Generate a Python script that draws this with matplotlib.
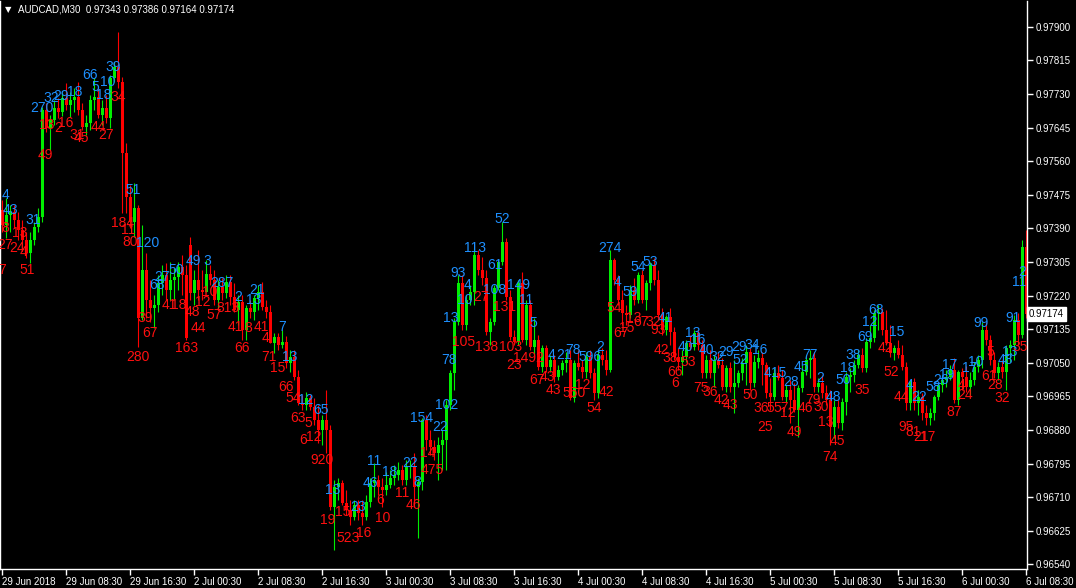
import matplotlib.pyplot as plt
import numpy as np

SYMBOL = "AUDCAD,M30"
POINT = 1e-5

time_labels = ["29 Jun 2018", "29 Jun 08:30", "29 Jun 16:30", "2 Jul 00:30", "2 Jul 08:30",
               "2 Jul 16:30", "3 Jul 00:30", "3 Jul 08:30", "3 Jul 16:30", "4 Jul 00:30",
               "4 Jul 08:30", "4 Jul 16:30", "5 Jul 00:30", "5 Jul 08:30", "5 Jul 16:30",
               "6 Jul 00:30", "6 Jul 08:30"]

price_ticks = [96540, 96625, 96710, 96795, 96880, 96965, 97050, 97135, 97220,
               97305, 97390, 97475, 97560, 97645, 97730, 97815, 97900]

# M30 bars, prices in points (1e-5)
opens = [
    97437, 97399, 97424, 97432, 97411, 97386, 97361, 97328, 97361, 97394,
    97419, 97690, 97644, 97664, 97695, 97685, 97720, 97702, 97715, 97723,
    97690, 97647, 97657, 97715, 97723, 97677, 97695, 97669, 97771, 97799,
    97761, 97581, 97470, 97406, 97442, 97164, 97285, 97209, 97189, 97196,
    97252, 97272, 97234, 97260, 97267, 97292, 97272, 97348, 97227, 97260,
    97234, 97229, 97275, 97260, 97209, 97242, 97227, 97255, 97217, 97184,
    97204, 97133, 97189, 97179, 97214, 97229, 97191, 97179, 97100, 97116,
    97095, 97103, 97050, 97065, 97014, 96948, 96943, 96961, 96938, 96905,
    96880, 96905, 96880, 96685, 96736, 96746, 96695, 96678, 96660, 96690,
    96670, 96660, 96698, 96746, 96754, 96736, 96728, 96741, 96759, 96766,
    96779, 96754, 96786, 96789, 96736, 96749, 96905, 96855, 96837, 96822,
    96842, 96855, 96943, 97024, 97153, 97252, 97146, 97209, 97229, 97323,
    97285, 97265, 97128, 97153, 97240, 97305, 97356, 97217, 97116, 97103,
    97252, 97108, 97196, 97090, 97108, 97040, 97088, 97040, 97057, 97014,
    97032, 97050, 97057, 96961, 97050, 97040, 97027, 97065, 97024, 96974,
    97070, 97057, 97032, 97310, 97260, 97209, 97176, 97171, 97234, 97209,
    97272, 97209, 97252, 97298, 97260, 97171, 97133, 97166, 97128, 97065,
    97052, 97065, 97100, 97090, 97126, 97095, 97024, 97057, 97024, 97057,
    97045, 96989, 97037, 96989, 96999, 97024, 97050, 97078, 96999, 97052,
    97062, 97045, 96974, 96964, 97024, 97012, 96964, 96981, 96956, 96931,
    96987, 97027, 97057, 97062, 96989, 96999, 96974, 96956, 96888, 96938,
    96898, 96951, 97014, 97019, 97045, 97070, 97037, 97103, 97113, 97176,
    97179, 97133, 97100, 97075, 97088, 97070, 97040, 96948, 97002, 96948,
    96964, 96923, 96911, 96923, 96964, 96994, 97007, 97014, 97032, 96956,
    97027, 97014, 96989, 97007, 97040, 97057, 97133, 97108, 97057, 97024,
    97040, 97027, 97088, 97095, 97158, 97121, 97343]

highs = [
    97462, 97467, 97449, 97449, 97432, 97411, 97381, 97381, 97406, 97442,
    97697, 97707, 97677, 97715, 97720, 97735, 97758, 97735, 97745, 97761,
    97707, 97677, 97728, 97771, 97745, 97715, 97728, 97778, 97811, 97887,
    97773, 97606, 97500, 97505, 97449, 97399, 97328, 97260, 97222, 97272,
    97298, 97303, 97305, 97290, 97305, 97323, 97298, 97368, 97285, 97336,
    97285, 97310, 97298, 97285, 97260, 97265, 97272, 97272, 97252, 97222,
    97222, 97196, 97209, 97222, 97247, 97255, 97209, 97196, 97126, 97126,
    97133, 97118, 97083, 97083, 97032, 96969, 96976, 96969, 96961, 96943,
    96918, 96981, 96893, 96754, 96759, 96754, 96728, 96703, 96703, 96703,
    96703, 96716, 96759, 96797, 96766, 96759, 96774, 96779, 96792, 96799,
    96792, 96804, 96804, 96822, 96759, 96911, 96918, 96880, 96855, 96862,
    96880, 96956, 97032, 97164, 97272, 97272, 97222, 97247, 97341, 97336,
    97318, 97285, 97164, 97247, 97310, 97406, 97366, 97234, 97133, 97260,
    97280, 97209, 97209, 97164, 97121, 97095, 97095, 97070, 97070, 97045,
    97057, 97078, 97083, 97057, 97083, 97057, 97078, 97083, 97037, 97083,
    97088, 97083, 97336, 97315, 97272, 97234, 97196, 97247, 97265, 97280,
    97285, 97260, 97305, 97315, 97285, 97189, 97171, 97189, 97141, 97088,
    97083, 97108, 97121, 97133, 97133, 97108, 97070, 97083, 97070, 97078,
    97062, 97045, 97052, 97057, 97032, 97062, 97095, 97088, 97070, 97083,
    97078, 97052, 97012, 97037, 97045, 97032, 96994, 97007, 96999, 96994,
    97045, 97070, 97083, 97078, 97012, 97019, 96994, 96981, 96956, 96956,
    96961, 97027, 97037, 97057, 97083, 97088, 97113, 97146, 97184, 97196,
    97189, 97184, 97146, 97095, 97108, 97095, 97052, 97007, 97012, 96981,
    96974, 96943, 96936, 96969, 96999, 97019, 97032, 97045, 97062, 97032,
    97037, 97042, 97027, 97052, 97070, 97153, 97153, 97121, 97078, 97052,
    97057, 97095, 97108, 97171, 97176, 97361, 97386]

lows = [
    97381, 97366, 97381, 97391, 97361, 97336, 97315, 97303, 97348, 97381,
    97406, 97634, 97589, 97652, 97669, 97675, 97690, 97672, 97685, 97677,
    97639, 97626, 97639, 97690, 97669, 97652, 97657, 97644, 97761, 97745,
    97429, 97429, 97391, 97368, 97090, 97158, 97164, 97153, 97138, 97179,
    97222, 97209, 97209, 97209, 97234, 97222, 97108, 97209, 97196, 97209,
    97209, 97229, 97247, 97196, 97189, 97209, 97214, 97196, 97179, 97146,
    97108, 97108, 97164, 97158, 97184, 97184, 97164, 97100, 97075, 97083,
    97088, 97037, 97027, 97007, 96943, 96931, 96931, 96931, 96893, 96847,
    96842, 96822, 96678, 96577, 96703, 96690, 96665, 96640, 96652, 96652,
    96640, 96652, 96685, 96711, 96716, 96685, 96716, 96734, 96741, 96754,
    96741, 96741, 96759, 96685, 96607, 96728, 96830, 96817, 96804, 96754,
    96779, 96779, 96931, 96981, 97146, 97133, 97133, 97196, 97196, 97272,
    97247, 97121, 97095, 97146, 97234, 97298, 97209, 97108, 97095, 97095,
    97103, 97095, 97083, 97070, 97032, 97027, 97027, 97027, 97002, 97007,
    97019, 97027, 96956, 96951, 97032, 97012, 97012, 97012, 96956, 96961,
    97045, 97019, 97027, 97247, 97196, 97146, 97146, 97164, 97196, 97201,
    97201, 97184, 97234, 97247, 97164, 97121, 97121, 97095, 97057, 97032,
    97019, 97052, 97083, 97083, 97083, 97012, 97012, 97012, 96989, 97037,
    96981, 96976, 96976, 96923, 96989, 97007, 96994, 96981, 96989, 97037,
    96994, 96961, 96931, 96956, 97007, 96956, 96951, 96898, 96926, 96862,
    96976, 97019, 97012, 96976, 96976, 96961, 96943, 96842, 96860, 96885,
    96880, 96918, 96976, 97002, 97037, 97027, 97027, 97088, 97103, 97133,
    97121, 97095, 97065, 97057, 97062, 97032, 96931, 96931, 96931, 96918,
    96905, 96893, 96893, 96905, 96956, 96976, 96989, 97007, 96948, 96943,
    96981, 96976, 96969, 96994, 97027, 97037, 97095, 97045, 97012, 97007,
    97012, 96981, 97052, 97057, 97095, 97113, 97164]

closes = [
    97399, 97424, 97432, 97411, 97386, 97361, 97328, 97361, 97394, 97419,
    97690, 97644, 97664, 97695, 97685, 97720, 97702, 97715, 97723, 97690,
    97647, 97657, 97715, 97723, 97677, 97695, 97669, 97771, 97799, 97761,
    97581, 97470, 97406, 97442, 97164, 97285, 97209, 97189, 97196, 97252,
    97272, 97234, 97260, 97267, 97292, 97272, 97113, 97227, 97260, 97234,
    97229, 97275, 97260, 97209, 97242, 97227, 97255, 97217, 97184, 97204,
    97133, 97189, 97179, 97214, 97229, 97191, 97179, 97100, 97116, 97095,
    97103, 97050, 97065, 97014, 96948, 96943, 96961, 96938, 96905, 96880,
    96905, 96880, 96685, 96736, 96746, 96695, 96678, 96660, 96690, 96670,
    96660, 96698, 96746, 96754, 96736, 96728, 96741, 96759, 96766, 96779,
    96754, 96786, 96789, 96736, 96749, 96905, 96855, 96837, 96822, 96842,
    96855, 96943, 97024, 97153, 97252, 97146, 97209, 97229, 97323, 97285,
    97265, 97128, 97153, 97240, 97305, 97356, 97217, 97116, 97103, 97252,
    97108, 97196, 97090, 97108, 97040, 97088, 97040, 97057, 97014, 97032,
    97050, 97057, 96961, 97050, 97040, 97027, 97065, 97024, 96974, 97070,
    97057, 97032, 97310, 97260, 97209, 97176, 97171, 97234, 97209, 97272,
    97209, 97252, 97298, 97260, 97171, 97133, 97166, 97128, 97065, 97052,
    97065, 97100, 97090, 97126, 97095, 97024, 97057, 97024, 97057, 97045,
    96989, 97037, 96989, 96999, 97024, 97050, 97078, 96999, 97052, 97062,
    97045, 96974, 96964, 97024, 97012, 96964, 96981, 96956, 96931, 96987,
    97027, 97057, 97062, 96989, 96999, 96974, 96956, 96888, 96938, 96898,
    96951, 97014, 97019, 97045, 97070, 97037, 97103, 97113, 97176, 97179,
    97133, 97100, 97075, 97088, 97070, 97040, 96948, 97002, 96948, 96964,
    96923, 96911, 96923, 96964, 96994, 97007, 97014, 97032, 96956, 97027,
    97014, 96989, 97007, 97040, 97057, 97133, 97108, 97057, 97024, 97040,
    97027, 97088, 97095, 97158, 97121, 97343, 97174]

# indicator numbers printed above highs (blue) and below lows (red)
blue_bar = [0.75, 2.0, 7.75, 10.0, 12.25, 14.75, 18.25, 22.0, 23.25, 25.5,
            26.5, 27.75, 32.75, 36.5, 38.75, 40.0, 43.5, 47.75, 51.25, 55.0,
            59.0, 63.75, 63.0, 70.0, 72.0, 76.0, 79.75, 82.75, 89.0, 93.0,
            92.0, 97.0, 102.0, 103.75, 105.0, 109.5, 111.25, 111.75, 112.25, 114.0,
            115.75, 116.5, 118.25, 123.25, 123.25, 125.0, 129.25, 131.0, 132.75, 137.5,
            140.5, 142.75, 147.0, 149.5, 152.0, 153.75, 157.0, 159.0, 162.0, 165.75,
            170.75, 172.75, 174.0, 176.0, 178.75, 181.0, 184.25, 187.5, 189.5, 184.5,
            191.5, 194.25, 197.25, 199.75, 202.0, 204.5, 207.75, 210.25, 212.75, 211.5,
            215.75, 217.0, 218.5, 223.75, 227.0, 229.25, 232.75, 234.75, 236.25, 237.0,
            242.0, 243.5, 244.75, 250.75, 252.0, 252.75, 254.25, 255.0]
blue_price = [97475, 97437, 97411, 97695, 97720, 97725, 97735, 97778, 97748, 97728,
              97761, 97799, 97487, 97353, 97247, 97267, 97285, 97308, 97308, 97252,
              97217, 97234, 97209, 97141, 97065, 96956, 96931, 96728, 96685, 96802,
              96746, 96774, 96797, 96749, 96910, 96888, 96943, 97057, 97164, 97277,
              97209, 97247, 97341, 97298, 97234, 97414, 97247, 97209, 97151, 97070,
              97070, 97083, 97065, 97090, 97341, 97255, 97229, 97293, 97305, 97164,
              97090, 97126, 97108, 97083, 97065, 97077, 97090, 97095, 97083, 97057,
              97024, 97024, 97002, 97040, 97070, 97012, 96964, 97007, 97070, 97037,
              97115, 97153, 97184, 97128, 96994, 96964, 96989, 97007, 97019, 97045,
              97037, 97052, 97151, 97057, 97078, 97164, 97255, 97280]
blue_text = ["4", "43", "31", "270", "32", "29", "18", "66", "5", "18",
             "10", "39", "51", "120", "68", "27", "50", "49", "3", "287",
             "2", "21", "13", "7", "13", "12", "65", "13", "23", "11",
             "46", "18", "22", "8", "154", "22", "102", "78", "13", "93",
             "10", "4", "113", "61", "108", "52", "149", "11", "5", "4",
             "21", "78", "596", "2", "274", "4", "59", "54", "53", "41",
             "40", "13", "16", "40", "32", "29", "29", "34", "16", "52",
             "4", "15", "28", "45", "77", "2", "48", "50", "38", "18",
             "69", "12", "68", "15", "4", "22", "58", "26", "19", "17",
             "17", "10", "99", "48", "13", "91", "11", "2"]

red_bar = [0.0, 0.75, 0.75, 3.75, 5.5, 6.25, 4.5, 10.75, 11.25, 14.0,
           16.0, 18.75, 19.75, 24.0, 26.0, 29.0, 30.25, 31.5, 32.0, 34.0,
           35.75, 37.0, 41.75, 44.25, 46.25, 49.0, 47.5, 50.25, 53.0, 52.0,
           56.5, 60.0, 58.25, 61.5, 64.75, 66.0, 66.75, 69.0, 71.0, 72.75,
           74.0, 76.5, 75.25, 78.0, 80.0, 81.5, 85.25, 86.5, 90.5, 94.5,
           95.25, 100.0, 102.75, 106.5, 107.5, 115.5, 119.75, 121.25, 125.75, 127.25,
           128.0, 131.5, 133.75, 136.25, 137.75, 143.0, 145.25, 148.0, 151.0, 153.0,
           154.75, 156.25, 158.0, 159.75, 162.75, 164.0, 164.75, 167.0, 168.25, 168.25,
           171.5, 174.75, 177.0, 179.75, 182.0, 187.0, 189.75, 192.0, 190.75, 194.75,
           196.5, 198.0, 200.75, 202.75, 204.75, 206.0, 207.0, 208.75, 215.0, 220.75,
           222.25, 224.75, 226.0, 227.75, 229.75, 231.5, 238.0, 240.75, 240.0, 246.75,
           247.0, 248.25, 250.0, 254.5]
red_price = [97285, 97348, 97391, 97341, 97330, 97285, 97378, 97576, 97652, 97644,
             97657, 97626, 97619, 97647, 97626, 97723, 97404, 97386, 97356, 97065,
             97164, 97126, 97196, 97196, 97088, 97138, 97179, 97204, 97171, 97229,
             97189, 97088, 97141, 97138, 97141, 97113, 97065, 97037, 96989, 96961,
             96910, 96898, 96855, 96862, 96804, 96652, 96673, 96607, 96620, 96703,
             96657, 96721, 96690, 96822, 96779, 97103, 97217, 97090, 97191, 97090,
             97045, 97062, 97007, 97014, 96981, 96974, 96994, 96936, 96976, 97189,
             97126, 97138, 97164, 97153, 97153, 97133, 97083, 97062, 97027, 96999,
             97052, 96986, 96976, 96956, 96943, 96969, 96936, 96936, 96888, 96936,
             96923, 96875, 96936, 96956, 96938, 96900, 96812, 96852, 96981, 97088,
             97027, 96964, 96888, 96875, 96862, 96862, 96926, 96969, 96994, 97017,
             97077, 96994, 96961, 97090]
red_text = ["7", "27", "8", "24", "4", "51", "13", "49", "13", "2",
            "16", "31", "45", "44", "27", "34", "184", "11", "80", "280",
            "39", "67", "41", "18", "163", "44", "48", "12", "57", "10",
            "813", "66", "41", "8", "41", "4", "71", "15", "66", "54",
            "63", "5", "6", "12", "920", "19", "15", "523", "16", "6",
            "10", "11", "46", "14", "475", "105", "27", "138", "131", "103",
            "23", "1492", "67", "43", "43", "550", "12", "54", "42", "54",
            "67", "15", "13", "67", "32", "93", "42", "38", "66", "6",
            "53", "75", "36", "42", "43", "50", "36", "5", "25", "57",
            "12", "49", "46", "79", "30", "13", "74", "45", "35", "42",
            "52", "44", "95", "81", "21", "17", "87", "24", "4", "61",
            "5", "28", "32", "35"]

BULL = "#00ee00"
BEAR = "#ff0000"
FONT = ["Liberation Sans", "DejaVu Sans"]


def main():
    o = np.array(opens) * POINT
    h = np.array(highs) * POINT
    l = np.array(lows) * POINT
    c = np.array(closes) * POINT
    idx = np.arange(len(c))
    colors = np.where(c >= o, BULL, BEAR)

    fig = plt.figure(figsize=(10.76, 5.88), dpi=100, facecolor="black")
    ax = fig.add_axes([0.0, 19 / 588, 1027 / 1076, 568 / 588], facecolor="black")

    ax.vlines(idx, l, h, colors=colors, linewidth=0.8)
    body = np.maximum(np.abs(c - o), 0.000022)
    ax.bar(idx, body, bottom=np.minimum(o, c), width=0.75, color=colors, linewidth=0)

    for x, p, t in zip(blue_bar, blue_price, blue_text):
        ax.text(x, p * POINT, t, color="#1e90ff", fontsize=10, family=FONT,
                ha="center", va="center", clip_on=True)
    for x, p, t in zip(red_bar, red_price, red_text):
        ax.text(x, p * POINT, t, color="#ff1010", fontsize=10, family=FONT,
                ha="center", va="center", clip_on=True)

    ax.set_xlim(-0.5, 256.25)
    ax.set_ylim(0.965284, 0.979655)

    for side in ["left", "right", "bottom"]:
        ax.spines[side].set_color("white")
        ax.spines[side].set_linewidth(1)
    ax.spines["top"].set_visible(False)

    ax.yaxis.tick_right()
    ax.set_yticks([p * POINT for p in price_ticks])
    ax.set_yticklabels(["%.5f" % (p * POINT) for p in price_ticks], family=FONT)
    ax.tick_params(axis="y", direction="out", length=4, width=1, colors="white",
                   labelsize=7, pad=2)

    ax.set_xticks(np.arange(len(time_labels)) * 16)
    ax.set_xticklabels(time_labels, family=FONT)
    for lbl in ax.get_xticklabels():
        lbl.set_ha("left")
    ax.tick_params(axis="x", direction="out", length=4, width=1, colors="white",
                   labelsize=7, pad=2)

    # current price marker
    ax.text(1.002, c[-1], "%.5f" % c[-1], transform=ax.get_yaxis_transform(),
            ha="left", va="center", color="black", fontsize=7, family=FONT,
            clip_on=False, bbox=dict(facecolor="white", edgecolor="white", pad=1.5))

    fig.text(5 / 1076, 1 - 10 / 588, "\u25bc", color="white", fontsize=6,
             family="DejaVu Sans", va="center")
    header = "%s  %.5f %.5f %.5f %.5f" % (SYMBOL, o[-1], h[-1], l[-1], c[-1])
    fig.text(18 / 1076, 1 - 10 / 588, header, color="white", fontsize=7,
             family=FONT, va="center")

    fig.savefig("out.png", dpi=100, facecolor="black")


if __name__ == "__main__":
    main()
